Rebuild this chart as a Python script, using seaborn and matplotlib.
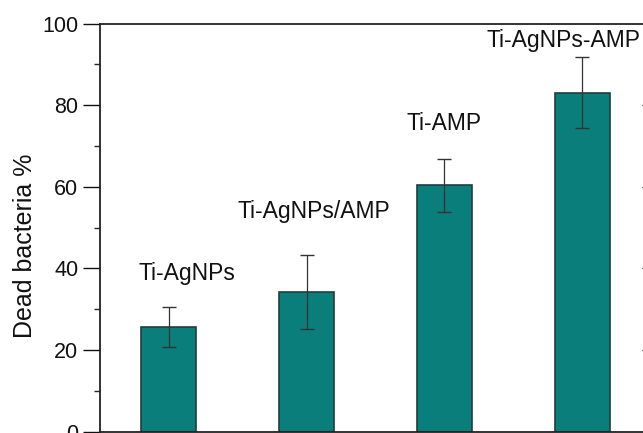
import matplotlib
matplotlib.use("Agg")
import matplotlib.pyplot as plt
import seaborn as sns
import pandas as pd
from matplotlib.ticker import MultipleLocator

categories = ["Ti-AgNPs", "Ti-AgNPs/AMP", "Ti-AMP", "Ti-AgNPs-AMP"]
dead_pct = [25.5, 34.2, 60.4, 83.0]
err = [4.9, 9.0, 6.5, 8.7]

label_dx = [0.13, 0.05, 0.0, -0.135]
label_y = [38.8, 54.0, 75.5, 95.8]

sns.set_theme(style="white")
plt.rcParams['font.family'] = ['Liberation Sans', 'DejaVu Sans']

df = pd.DataFrame({"group": categories, "value": dead_pct})

fig = plt.figure(figsize=(6.43, 4.33), dpi=100)
ax = fig.add_axes([100/643, 1.5/433, 551/643, 408/433])

sns.barplot(data=df, x="group", y="value", ax=ax, color="#0a7e7b",
            saturation=1, width=0.4, edgecolor="#1f3f3e", linewidth=1.2)
ax.errorbar(range(len(categories)), dead_pct, yerr=err, fmt="none",
            ecolor="#333333", elinewidth=0.9, capsize=5, capthick=1.0)

for i, (c, dx, ly) in enumerate(zip(categories, label_dx, label_y)):
    ax.text(i + dx, ly, c, ha="center", va="center", fontsize=16.5, color="#111111")

ax.set_xlim(-0.5, len(categories) - 0.5)
ax.set_ylim(0, 100)
ax.yaxis.set_major_locator(MultipleLocator(20))
ax.yaxis.set_minor_locator(MultipleLocator(10))
ax.set_xlabel("")
ax.set_xticks([])
ax.set_ylabel("Dead bacteria %", fontsize=18, color="#111111", labelpad=4)
ax.yaxis.label.set_y(0.455)
ax.tick_params(axis="y", which="major", direction="out", length=12, width=1.0,
               labelsize=15.5, colors="#111111", left=True, right=False)
ax.tick_params(axis="y", which="minor", direction="out", length=4, width=1.0,
               left=True, right=False)
for s in ax.spines.values():
    s.set_color("#222222")
    s.set_linewidth(1.3)
    s.set_visible(True)

# faint inward ticks of the (cropped) right axis
for v in [20, 40, 60, 80]:
    ax.plot([3.5 - 9/137.7, 3.5], [v, v], color="#555555", lw=0.8,
            clip_on=False)

fig.savefig("out.png", dpi=100)
